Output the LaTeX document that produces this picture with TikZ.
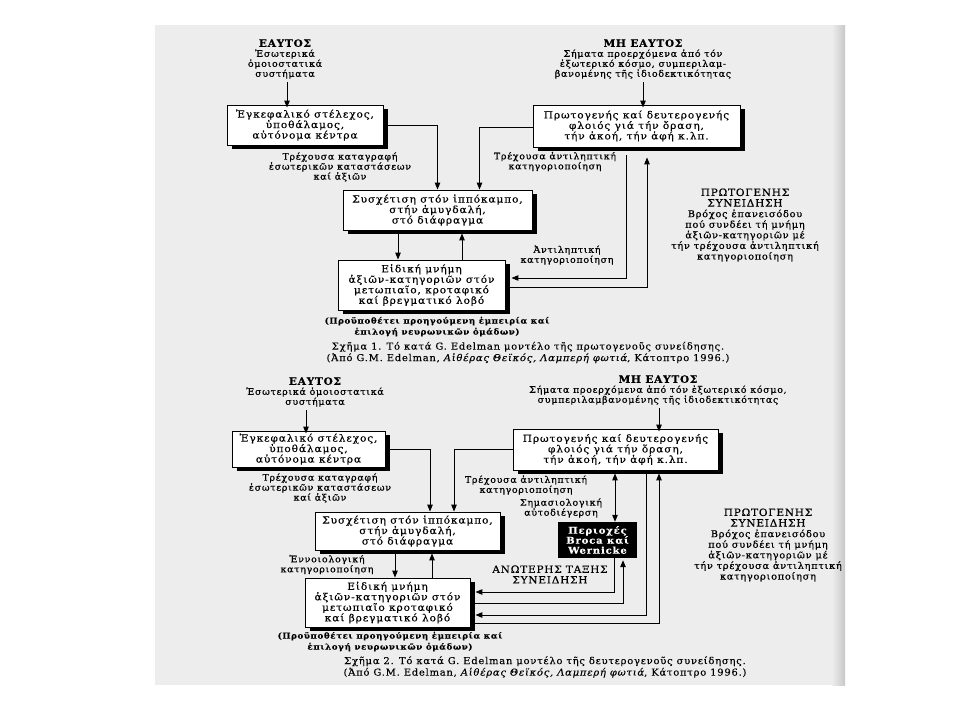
\documentclass[tikz,border=0pt]{standalone}
\usepackage{fontspec}
\setmainfont{DejaVu Serif}
\newfontfamily\bfnt{DejaVu Serif}[FakeStretch=1.08,LetterSpace=9,FakeBold=0.3]
\newfontfamily\lfnt{DejaVu Serif}[FakeStretch=1.05,LetterSpace=8,FakeBold=0.6]
\newfontfamily\cfnt{DejaVu Serif}[FakeStretch=1.05,LetterSpace=8,FakeBold=0.2]
\usetikzlibrary{arrows.meta,shadows,calc}
\tikzset{
  box/.style={draw=black, line width=0.9pt, fill=white, align=center, inner sep=0pt,
    font={\bfnt\fontsize{9.8}{10.5}\selectfont},
    drop shadow={shadow xshift=4.5pt, shadow yshift=-4pt, fill=black, opacity=1}},
  blk/.style={fill=black, text=white, align=center, inner sep=0pt,
    font={\bfnt\bfseries\fontsize{9.3}{10}\selectfont}},
  lbl/.style={align=center, inner sep=0pt, font={\lfnt\fontsize{9}{10}\selectfont}},
  rlbl/.style={align=center, inner sep=0pt, font={\lfnt\fontsize{9.3}{10.6}\selectfont}},
  plbl/.style={align=center, inner sep=0pt, font={\cfnt\bfseries\fontsize{8.2}{11}\selectfont}},
  capt/.style={align=center, inner sep=0pt, font={\cfnt\fontsize{9.5}{11.5}\selectfont}},
  conn/.style={line width=1pt, draw=black},
  arr/.style={conn, -{Triangle[length=7pt,width=5.5pt]}},
  darr/.style={conn, {Triangle[length=7pt,width=5.5pt]}-{Triangle[length=7pt,width=5.5pt]}},
}
\newcommand{\ttl}[1]{{\fontsize{10}{10}\selectfont\bfseries #1}}
\newcommand{\caps}[1]{{\fontsize{10}{11}\selectfont #1}}
\begin{document}
\begin{tikzpicture}[x=1pt,y=-1pt]
\useasboundingbox (0,0) rectangle (960,720);
\fill[white] (0,0) rectangle (960,720);
\fill[black!7] (155,25) rectangle (845,685);
\shade[left color=black!7, right color=black!22] (832,25) rectangle (845,685);

% ---------------- Diagram 1 ----------------
\node[lbl] (S1) at (285,59) {\ttl{ΕΑΥΤΟΣ}\\Ἐσωτερικά\\ὁμοιοστατικά\\συστήματα};
\node[lbl] (N1) at (643,59) {\ttl{ΜΗ ΕΑΥΤΟΣ}\\Σήματα προερχόμενα ἀπό τόν\\ἐξωτερικό κόσμο, συμπεριλαμ-\\βανομένης τῆς ἰδιοδεκτικότητας};
\node[box, minimum width=156pt, minimum height=40pt] (A) at (305,125) {Ἐγκεφαλικό στέλεχος,\\ὑποθάλαμος,\\αὐτόνομα κέντρα};
\node[box, minimum width=207pt, minimum height=42pt] (B) at (636.5,126) {Πρωτογενής καί δευτερογενής\\φλοιός γιά τήν ὅραση,\\τήν ἀκοή, τήν ἀφή κ.λπ.};
\node[lbl] (L1) at (340,167) {Τρέχουσα καταγραφή\\ἐσωτερικῶν καταστάσεων\\καί ἀξιῶν};
\node[lbl] (L2) at (555,161.5) {Τρέχουσα ἀντιληπτική\\κατηγοριοποίηση};
\node[box, minimum width=189pt, minimum height=40pt] (C) at (437.5,210) {Συσχέτιση στόν ἱππόκαμπο,\\στήν ἀμυγδαλή,\\στό διάφραγμα};
\node[box, minimum width=167pt, minimum height=50pt] (D) at (421.5,285) {Εἰδική μνήμη\\ἀξιῶν-κατηγοριῶν στόν\\μετωπιαῖο, κροταφικό\\καί βρεγματικό λοβό};
\node[lbl] (L3) at (567,255) {Ἀντιληπτική\\κατηγοριοποίηση};
\node[rlbl] (R1) at (745,225) {\caps{ΠΡΩΤΟΓΕΝΗΣ}\\\caps{ΣΥΝΕΙΔΗΣΗ}\\Βρόχος ἐπανεισόδου\\πού συνδέει τή μνήμη\\ἀξιῶν-κατηγοριῶν μέ\\τήν τρέχουσα ἀντιληπτική\\κατηγοριοποίηση};
\node[plbl] (P1) at (437,326.5) {(Προϋποθέτει προηγούμενη ἐμπειρία καί\\ἐπιλογή νευρωνικῶν ὁμάδων)};
\node[capt] (K1) at (528,352.5) {Σχῆμα 1. Τό κατά G. Edelman μοντέλο τῆς πρωτογενοῦς συνείδησης.\\(Ἀπό G.M. Edelman, \textit{Αἰθέρας Θεϊκός, Λαμπερή φωτιά}, Κάτοπτρο 1996.)};

\draw[arr] ([xshift=2pt,yshift=-3pt]S1.south) -- ([xshift=2pt,yshift=-3pt]S1.south |- A.north);
\draw[arr] ([yshift=-3pt]N1.south) -- ([yshift=-3pt]N1.south |- B.north);
\draw[arr] (A.east) -| (C.north);
\draw[arr] ([yshift=-1pt]B.west) -| ([xshift=42pt]C.north);
\draw[arr] ([xshift=-39.5pt]C.south) -- ([xshift=-39.5pt]C.south |- D.north);
\draw[arr] ([xshift=24.5pt]C.south |- D.north) -- ([xshift=24.5pt,yshift=-3pt]C.south);
\draw[arr] ([xshift=-10.5pt,yshift=-8pt]B.south) |- ([xshift=6pt,yshift=7pt]D.east);
\draw[arr] ([yshift=-2pt]D.east) -| ([xshift=10.5pt,yshift=-10pt]B.south);

% ---------------- Diagram 2 ----------------
\node[lbl] (S2) at (315,392) {\ttl{ΕΑΥΤΟΣ}\\Ἐσωτερικά ὁμοιοστατικά\\συστήματα};
\node[lbl] (N2) at (658,390) {\ttl{ΜΗ ΕΑΥΤΟΣ}\\Σήματα προερχόμενα ἀπό τόν ἐξωτερικό κόσμο,\\συμπεριλαμβανομένης τῆς ἰδιοδεκτικότητας};
\node[box, minimum width=153pt, minimum height=36pt] (A2) at (308.5,449) {Ἐγκεφαλικό στέλεχος,\\ὑποθάλαμος,\\αὐτόνομα κέντρα};
\node[box, minimum width=205pt, minimum height=41pt] (B2) at (615.5,449.5) {Πρωτογενής καί δευτερογενής\\φλοιός γιά τήν ὅραση,\\τήν ἀκοή, τήν ἀφή κ.λπ.};
\node[lbl] (L21) at (320,488) {Τρέχουσα καταγραφή\\ἐσωτερικῶν καταστάσεων\\καί ἀξιῶν};
\node[lbl] (L22) at (526,485) {Τρέχουσα ἀντιληπτική\\κατηγοριοποίηση};
\node[lbl] (L23) at (561,508) {Σημασιολογική\\αὐτοδιέγερση};
\node[blk, minimum width=79pt, minimum height=36pt] (E) at (597.5,540) {Περιοχές\\Broca καί\\Wernicke};
\node[box, minimum width=185pt, minimum height=38pt] (C2) at (407.5,531) {Συσχέτιση στόν ἱππόκαμπο,\\στήν ἀμυγδαλή,\\στό διάφραγμα};
\node[lbl] (L24) at (327,564.5) {Ἐννοιολογική\\κατηγοριοποίηση};
\node[box, minimum width=165pt, minimum height=49pt] (D2) at (387.5,602.5) {Εἰδική μνήμη\\ἀξιῶν-κατηγοριῶν στόν\\μετωπιαῖο κροταφικό\\καί βρεγματικό λοβό};
\node[rlbl] (H2) at (550,574.5) {\caps{ΑΝΩΤΕΡΗΣ ΤΑΞΗΣ}\\\caps{ΣΥΝΕΙΔΗΣΗ}};
\node[rlbl] (R2) at (768,545) {\caps{ΠΡΩΤΟΓΕΝΗΣ}\\\caps{ΣΥΝΕΙΔΗΣΗ}\\Βρόχος ἐπανεισόδου\\πού συνδέει τή μνήμη\\ἀξιῶν-κατηγοριῶν μέ\\τήν τρέχουσα ἀντιληπτική\\κατηγοριοποίηση};
\node[plbl] (P2) at (390,641.5) {(Προϋποθέτει προηγούμενη ἐμπειρία καί\\ἐπιλογή νευρωνικῶν ὁμάδων)};
\node[capt] (K2) at (545,667) {Σχῆμα 2. Τό κατά G. Edelman μοντέλο τῆς δευτερογενοῦς συνείδησης.\\(Ἀπό G.M. Edelman, \textit{Αἰθέρας Θεϊκός, Λαμπερή φωτιά}, Κάτοπτρο 1996.)};

\draw[arr] ([xshift=-9pt,yshift=-3pt]S2.south) -- ([xshift=-9pt,yshift=-3pt]S2.south |- A2.north);
\draw[arr] ([xshift=1pt,yshift=-3pt]N2.south) -- ([xshift=1pt,yshift=-3pt]N2.south |- B2.north);
\draw[arr] (A2.east) -| ([xshift=22.5pt]C2.north);
\draw[arr] (B2.west) -| ([xshift=46.5pt]C2.north);
\draw[arr] ([xshift=-12.5pt]C2.south) -- ([xshift=-12.5pt]C2.south |- D2.north);
\draw[arr] ([xshift=24.5pt]C2.south |- D2.north) -- ([xshift=24.5pt,yshift=-3pt]C2.south);
\draw[darr] ([xshift=-0.5pt,yshift=-3pt]B2.south) -- ([xshift=-0.5pt]B2.south |- E.north);
\draw[arr] ([xshift=16.5pt]E.south) |- ([xshift=5pt,yshift=10.5pt]D2.east);
\draw[arr] ([yshift=-0.5pt]D2.east) -| ([xshift=25.5pt,yshift=-2pt]E.south);
\draw[arr] ([xshift=30.5pt,yshift=-2pt]B2.south) |- ([xshift=5pt,yshift=-12.5pt]D2.east);
\draw[arr] ([yshift=-21pt]D2.east) -| ([xshift=43.5pt,yshift=-3pt]B2.south);
\end{tikzpicture}
\end{document}
